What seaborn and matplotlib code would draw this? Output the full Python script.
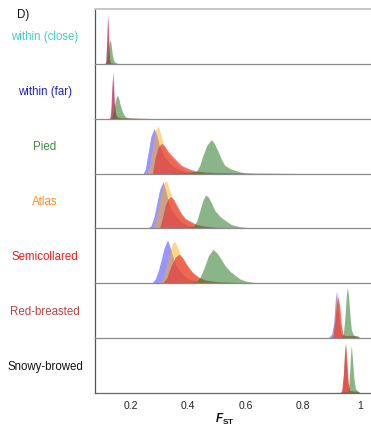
import pandas as pd
import matplotlib.pyplot as plt
import seaborn as sns

# Density curves: per row, per series -> (F_ST values, relative height)
within_close = {
    "blue": ([0.105, 0.110, 0.113, 0.116, 0.119, 0.121, 0.124, 0.127, 0.130],
             [0, 0, 0.06, 0.45, 0.92, 0.50, 0.10, 0.02, 0]),
    "red": ([0.105, 0.110, 0.113, 0.116, 0.120, 0.122, 0.124, 0.127, 0.130, 0.140, 0.155, 0.176],
            [0, 0, 0.05, 0.35, 0.88, 0.60, 0.25, 0.05, 0.02, 0.01, 0.005, 0]),
    "green": ([0.113, 0.116, 0.119, 0.121, 0.124, 0.128, 0.131, 0.135, 0.140, 0.145, 0.155, 0.170],
              [0, 0.02, 0.10, 0.25, 0.38, 0.44, 0.36, 0.18, 0.06, 0.02, 0.005, 0]),
}
within_far = {
    "blue": ([0.126, 0.130, 0.133, 0.136, 0.139, 0.142, 0.146, 0.150, 0.155],
             [0, 0.05, 0.30, 0.72, 0.86, 0.30, 0.06, 0.02, 0]),
    "red": ([0.124, 0.127, 0.130, 0.133, 0.136, 0.139, 0.142, 0.146, 0.150, 0.156, 0.170, 0.220, 0.283],
            [0, 0.02, 0.15, 0.50, 0.74, 0.55, 0.30, 0.12, 0.05, 0.03, 0.015, 0.01, 0]),
    "green": ([0.130, 0.133, 0.136, 0.139, 0.142, 0.146, 0.150, 0.154, 0.158, 0.163, 0.170, 0.178, 0.186, 0.200, 0.240],
              [0, 0.02, 0.06, 0.12, 0.22, 0.33, 0.40, 0.42, 0.36, 0.25, 0.13, 0.05, 0.02, 0.01, 0]),
}
pied = {
    "blue": ([0.243, 0.250, 0.260, 0.270, 0.281, 0.290, 0.300, 0.310, 0.320, 0.340, 0.360, 0.380, 0.400, 0.430],
             [0, 0.08, 0.38, 0.68, 0.82, 0.70, 0.50, 0.38, 0.28, 0.16, 0.09, 0.05, 0.02, 0]),
    "yellow": ([0.255, 0.265, 0.275, 0.285, 0.295, 0.305, 0.315, 0.330, 0.350, 0.370, 0.400, 0.450, 0.500],
               [0, 0.12, 0.45, 0.78, 0.87, 0.70, 0.50, 0.35, 0.24, 0.13, 0.05, 0.02, 0]),
    "red": ([0.275, 0.285, 0.295, 0.307, 0.318, 0.330, 0.353, 0.376, 0.400, 0.423, 0.460, 0.550, 0.650, 0.800],
            [0, 0.30, 0.48, 0.55, 0.50, 0.40, 0.27, 0.15, 0.09, 0.05, 0.025, 0.012, 0.008, 0]),
    "green": ([0.330, 0.400, 0.428, 0.440, 0.451, 0.465, 0.481, 0.490, 0.504, 0.515, 0.527, 0.545, 0.562, 0.580, 0.600, 0.620],
              [0, 0.02, 0.04, 0.15, 0.33, 0.52, 0.62, 0.55, 0.40, 0.26, 0.15, 0.09, 0.06, 0.03, 0.01, 0]),
}
atlas = {
    "blue": ([0.260, 0.270, 0.280, 0.290, 0.300, 0.312, 0.320, 0.330, 0.340, 0.360, 0.380, 0.400, 0.430, 0.460],
             [0, 0.05, 0.20, 0.45, 0.70, 0.85, 0.72, 0.50, 0.35, 0.20, 0.10, 0.05, 0.02, 0]),
    "yellow": ([0.275, 0.285, 0.295, 0.305, 0.315, 0.324, 0.335, 0.350, 0.365, 0.380, 0.400, 0.430, 0.470, 0.520],
               [0, 0.10, 0.35, 0.65, 0.82, 0.87, 0.70, 0.48, 0.33, 0.22, 0.12, 0.05, 0.02, 0]),
    "red": ([0.300, 0.310, 0.320, 0.330, 0.339, 0.350, 0.360, 0.376, 0.390, 0.411, 0.430, 0.460, 0.500, 0.600, 0.740],
            [0, 0.20, 0.42, 0.54, 0.58, 0.52, 0.42, 0.27, 0.18, 0.12, 0.07, 0.04, 0.02, 0.01, 0]),
    "green": ([0.340, 0.380, 0.417, 0.430, 0.440, 0.450, 0.460, 0.470, 0.480, 0.492, 0.510, 0.527, 0.550, 0.580, 0.620, 0.660],
              [0, 0.01, 0.03, 0.14, 0.32, 0.50, 0.61, 0.57, 0.47, 0.33, 0.22, 0.15, 0.07, 0.03, 0.01, 0]),
}
semicollared = {
    "blue": ([0.272, 0.285, 0.295, 0.305, 0.316, 0.328, 0.340, 0.350, 0.360, 0.380, 0.400, 0.430, 0.470],
             [0, 0.08, 0.22, 0.42, 0.65, 0.79, 0.60, 0.42, 0.30, 0.16, 0.08, 0.03, 0]),
    "yellow": ([0.300, 0.315, 0.325, 0.335, 0.345, 0.353, 0.365, 0.380, 0.400, 0.420, 0.450, 0.500, 0.550],
               [0, 0.12, 0.35, 0.58, 0.73, 0.77, 0.62, 0.45, 0.28, 0.15, 0.06, 0.02, 0]),
    "red": ([0.310, 0.325, 0.340, 0.355, 0.367, 0.380, 0.390, 0.400, 0.415, 0.434, 0.460, 0.500, 0.600, 0.800],
            [0, 0.10, 0.32, 0.48, 0.53, 0.47, 0.38, 0.30, 0.20, 0.12, 0.06, 0.03, 0.01, 0]),
    "green": ([0.340, 0.390, 0.428, 0.440, 0.455, 0.470, 0.486, 0.500, 0.513, 0.527, 0.545, 0.562, 0.580, 0.600, 0.630, 0.660],
              [0, 0.01, 0.03, 0.10, 0.28, 0.50, 0.62, 0.55, 0.45, 0.33, 0.22, 0.15, 0.08, 0.04, 0.015, 0]),
}
red_breasted = {
    "blue": ([0.880, 0.890, 0.900, 0.907, 0.912, 0.916, 0.920, 0.925, 0.930, 0.940, 0.950],
             [0, 0.02, 0.08, 0.30, 0.70, 0.85, 0.60, 0.30, 0.10, 0.03, 0]),
    "yellow": ([0.900, 0.907, 0.913, 0.919, 0.924, 0.930, 0.937, 0.945],
               [0, 0.15, 0.60, 0.87, 0.60, 0.25, 0.06, 0]),
    "red": ([0.898, 0.904, 0.910, 0.916, 0.922, 0.928, 0.933, 0.938, 0.945, 0.960, 0.975, 0.990, 1.000],
            [0, 0.05, 0.30, 0.62, 0.75, 0.55, 0.25, 0.08, 0.05, 0.05, 0.05, 0.03, 0]),
    "green": ([0.935, 0.940, 0.945, 0.950, 0.954, 0.958, 0.963, 0.968, 0.975, 0.990, 1.000],
              [0, 0.08, 0.35, 0.75, 0.93, 0.78, 0.40, 0.15, 0.06, 0.04, 0]),
}
snowy_browed = {
    "blue": ([0.932, 0.938, 0.942, 0.946, 0.950, 0.955, 0.960],
             [0, 0.10, 0.45, 0.80, 0.55, 0.15, 0]),
    "yellow": ([0.935, 0.940, 0.944, 0.947, 0.950, 0.955, 0.960, 0.965],
               [0, 0.20, 0.70, 0.94, 0.70, 0.25, 0.05, 0]),
    "red": ([0.928, 0.934, 0.940, 0.945, 0.948, 0.952, 0.957, 0.962, 0.975, 0.990, 1.000],
            [0, 0.05, 0.35, 0.82, 0.90, 0.60, 0.20, 0.05, 0.04, 0.03, 0]),
    "green": ([0.680, 0.700, 0.900, 0.955, 0.958, 0.962, 0.966, 0.968, 0.972, 0.977, 0.982, 0.990, 1.000],
              [0, 0.01, 0.01, 0.02, 0.08, 0.40, 0.78, 0.86, 0.60, 0.25, 0.08, 0.04, 0]),
}

rows = ["within (close)", "within (far)", "Pied", "Atlas", "Semicollared", "Red-breasted", "Snowy-browed"]
row_data = [within_close, within_far, pied, atlas, semicollared, red_breasted, snowy_browed]
row_colors = ["#3fcfcf", "#2323c8", "#3d8a3d", "#ff8c1a", "#ee1c1c", "#b44444", "#111111"]

series = ["blue", "yellow", "red", "green"]
series_colors = ["#0000ff", "#ffaf19", "#e43030", "#287828"]
series_alpha = [0.41, 0.5, 0.66, 0.55]

xticks = [0.2, 0.4, 0.6, 0.8, 1.0]
xtick_labels = ["0.2", "0.4", "0.6", "0.8", "1"]

# long table for the FacetGrid
records = []
for name, d in zip(rows, row_data):
    for s in series:
        if s not in d:
            continue
        xs, ys = d[s]
        for x, y in zip(xs, ys):
            records.append({"row": name, "series": s, "fst": x, "dens": y})
df = pd.DataFrame(records)

sns.set_theme(style="white")
plt.rcParams['font.family'] = ['Liberation Sans', 'DejaVu Sans']
plt.rcParams['mathtext.fontset'] = 'custom'
plt.rcParams['mathtext.it'] = 'Liberation Sans:italic:bold'
plt.rcParams['mathtext.rm'] = 'Liberation Sans:bold'

g = sns.FacetGrid(df, row="row", hue="series", row_order=rows, hue_order=series,
                  palette=series_colors, hue_kws={"alpha": series_alpha},
                  height=0.6, aspect=4.6, sharex=True, sharey=True)
g.map(plt.fill_between, "fst", "dens", linewidth=0)

g.set_titles("")
g.set(xlim=(0.075, 1.035), ylim=(0, 1), yticks=[], xlabel="", ylabel="")

fig = g.figure
fig.set_size_inches(3.71, 4.27)
fig.subplots_adjust(left=0.256, right=0.999, top=0.977, bottom=0.077, hspace=0)

axes = g.axes.flatten()
for i, (ax, name, col) in enumerate(zip(axes, rows, row_colors)):
    ax.set_facecolor("none")
    ax.set_zorder(len(rows) - i)
    for side in ["top", "right"]:
        ax.spines[side].set_visible(False)
    ax.spines["left"].set_visible(True)
    ax.spines["left"].set_color("#555555")
    ax.spines["left"].set_linewidth(0.9)
    ax.spines["bottom"].set_visible(True)
    ax.spines["bottom"].set_color("#8a8a8a")
    ax.spines["bottom"].set_linewidth(0.9)
    ax.text(-0.181, 0.5, name, transform=ax.transAxes, ha="center", va="center",
            fontsize=8.3, color=col)
    ax.tick_params(axis="x", length=0)

axes[0].spines["top"].set_visible(True)
axes[0].spines["top"].set_color("#c8c8c8")
axes[0].spines["top"].set_linewidth(1.4)

bottom = axes[-1]
bottom.spines["bottom"].set_color("#666666")
bottom.set_xticks(xticks)
bottom.set_xticklabels(xtick_labels, fontsize=7.5, color="#222222")
bottom.tick_params(axis="x", length=2, width=0.6, color="#777777", pad=3, labelbottom=True)

fig.text(17 / 371, 1 - 15 / 427, "D)", fontsize=8.3, ha="left", va="center", color="#111111")
fig.text(225 / 371, 1 - 419 / 427, r"$F_{\mathrm{ST}}$", fontsize=8.5, ha="center", va="center",
         color="#111111")

fig.savefig("out.png", dpi=100)
